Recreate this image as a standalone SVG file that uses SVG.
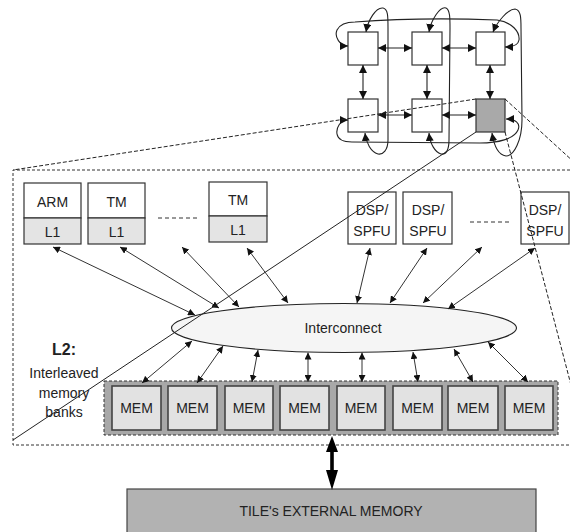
<svg xmlns="http://www.w3.org/2000/svg" width="570" height="532" viewBox="0 0 570 532">
  <style>
    text { font-family: "Liberation Sans", Arial, sans-serif; font-size: 14px; fill: #222; text-anchor: middle; }
    .bold { font-weight: bold; font-size: 16px; }
    .box { fill: #fff; stroke: #333; stroke-width: 1.2; }
    .cache { fill: #e4e4e4; stroke: #333; stroke-width: 1.2; }
    .tile { fill: #a9a9a9; stroke: #333; stroke-width: 1.2; }
    .mem { fill: #e2e2e2; stroke: #444; stroke-width: 1.6; }
    .bank { fill: #a8a8a8; stroke: #333; stroke-width: 1; stroke-dasharray: 3 2; }
    .ext { fill: #b2b2b2; stroke: #444; stroke-width: 1.2; }
    .bus { fill: #f5f5f5; stroke: #222; stroke-width: 1.1; }
    .frame { fill: none; stroke: #333; stroke-width: 1; stroke-dasharray: 3 2; }
    .dots { fill: none; stroke: #333; stroke-width: 1; stroke-dasharray: 4 3; }
    .link { fill: none; stroke: #333; stroke-width: 1; marker-start: url(#ah); marker-end: url(#ah); }
    .mesh { fill: none; stroke: #222; stroke-width: 1.1; marker-start: url(#gh); marker-end: url(#gh); }
    .proj { fill: none; stroke: #222; stroke-width: 1; }
    .projd { fill: none; stroke: #222; stroke-width: 1; stroke-dasharray: 4 2; }
  </style>
  <defs>
    <marker id="ah" viewBox="0 0 10 10" refX="10" refY="5" markerWidth="7" markerHeight="7" markerUnits="userSpaceOnUse" orient="auto-start-reverse">
      <path d="M0,0 L10,5 L0,10 z" fill="#111"/>
    </marker>
    <marker id="gh" viewBox="0 0 10 10" refX="10" refY="5" markerWidth="8" markerHeight="8" markerUnits="userSpaceOnUse" orient="auto-start-reverse">
      <path d="M0,0 L10,5 L0,10 z" fill="#111"/>
    </marker>
  </defs>

  <!-- tile boundary (dashed) -->
  <g id="tile-frame">
    <path class="frame" d="M570,170 L13,170 L13,445 L570,445"/>
  </g>

  <!-- 2x3 tile mesh -->
  <g id="mesh">
    <g id="t11"><rect class="box" x="348" y="32" width="30" height="33"/></g>
    <g id="t12"><rect class="box" x="412" y="32" width="30" height="33"/></g>
    <g id="t13"><rect class="box" x="476" y="32" width="29" height="33"/></g>
    <g id="t21"><rect class="box" x="348" y="99" width="30" height="33"/></g>
    <g id="t22"><rect class="box" x="412" y="99" width="30" height="33"/></g>
    <g id="t23"><rect class="tile" x="476" y="99" width="29" height="33"/></g>
  </g>
  <g id="mesh-links">
    <line class="mesh" x1="378" y1="48" x2="412" y2="48"/>
    <line class="mesh" x1="442" y1="48" x2="476" y2="48"/>
    <line class="mesh" x1="378" y1="115" x2="412" y2="115"/>
    <line class="mesh" x1="442" y1="115" x2="476" y2="115"/>
    <line class="mesh" x1="363" y1="65" x2="363" y2="99"/>
    <line class="mesh" x1="427" y1="65" x2="427" y2="99"/>
    <line class="mesh" x1="490" y1="65" x2="490" y2="99"/>
    <!-- wrap-around links -->
    <path class="mesh" d="M348,46 C340,46 334,37 337,30 C340,24 346,22 355,22 Q420,17 497,20 C512,22 520,32 519,40 C518,46 512,47 505,47"/>
    <path class="mesh" d="M348,120 C340,120 336,128 337,134 C338,140 343,142 352,142 L480,143 C498,143 514,139 518,130 C521,123 515,119 506,119"/>
    <path class="mesh" d="M366,32 C368,20 376,7 383,8 C388,9 388,16 388,28 L388,140 C388,150 383,155 378,154 C371,152 366,143 365,133"/>
    <path class="mesh" d="M429,32 C431,20 440,6 446,8 C450,10 450,18 450,28 L449,140 C449,150 446,155 441,154 C435,152 430,144 429,133"/>
    <path class="mesh" d="M493,32 C497,22 508,9 515,9 C521,10 521,18 521,28 L522,120 C522,140 514,156 506,156 C499,155 494,146 492,133"/>
  </g>

  <!-- processors -->
  <g id="arm">
    <rect class="box" x="24" y="183" width="57" height="35"/>
    <rect class="cache" x="24" y="218" width="57" height="26"/>
    <text x="52.5" y="207">ARM</text>
    <text x="52.5" y="237">L1</text>
  </g>
  <g id="tm1">
    <rect class="box" x="88" y="183" width="57" height="35"/>
    <rect class="cache" x="88" y="218" width="57" height="26"/>
    <text x="116.5" y="207">TM</text>
    <text x="116.5" y="237">L1</text>
  </g>
  <line class="dots" x1="158" y1="218" x2="197" y2="218"/>
  <g id="tm2">
    <rect class="box" x="209" y="182" width="58" height="34"/>
    <rect class="cache" x="209" y="216" width="58" height="26"/>
    <text x="238" y="205">TM</text>
    <text x="238" y="235">L1</text>
  </g>
  <g id="dsp1">
    <rect class="box" x="348" y="192" width="48" height="52"/>
    <text x="372" y="215">DSP/</text>
    <text x="372" y="236">SPFU</text>
  </g>
  <g id="dsp2">
    <rect class="box" x="403" y="192" width="49" height="52"/>
    <text x="428" y="215">DSP/</text>
    <text x="428" y="236">SPFU</text>
  </g>
  <line class="dots" x1="470" y1="222" x2="510" y2="222"/>
  <g id="dsp3">
    <rect class="box" x="521" y="192" width="48" height="52"/>
    <text x="545" y="215">DSP/</text>
    <text x="545" y="236">SPFU</text>
  </g>

  <!-- interconnect -->
  <g id="interconnect">
    <ellipse class="bus" cx="344" cy="328" rx="172.5" ry="24.5"/>
    <text x="343" y="333">Interconnect</text>
  </g>

  <!-- L2 label -->
  <g id="l2-label">
    <text class="bold" x="64" y="355">L2:</text>
    <text x="64" y="378">Interleaved</text>
    <text x="64" y="398">memory</text>
    <text x="64" y="417">banks</text>
  </g>

  <!-- L2 memory banks -->
  <g id="l2-banks">
    <rect class="bank" x="104" y="381" width="454" height="54"/>
    <g id="mem1"><rect class="mem" x="112" y="386" width="49" height="44"/><text x="136.5" y="413">MEM</text></g>
    <g id="mem2"><rect class="mem" x="168" y="386" width="49" height="44"/><text x="192.5" y="413">MEM</text></g>
    <g id="mem3"><rect class="mem" x="225" y="386" width="48" height="44"/><text x="249" y="413">MEM</text></g>
    <g id="mem4"><rect class="mem" x="280" y="386" width="49" height="44"/><text x="304.5" y="413">MEM</text></g>
    <g id="mem5"><rect class="mem" x="337" y="386" width="48" height="44"/><text x="361" y="413">MEM</text></g>
    <g id="mem6"><rect class="mem" x="393" y="386" width="49" height="44"/><text x="417.5" y="413">MEM</text></g>
    <g id="mem7"><rect class="mem" x="448" y="386" width="50" height="44"/><text x="473" y="413">MEM</text></g>
    <g id="mem8"><rect class="mem" x="505" y="386" width="48" height="44"/><text x="529" y="413">MEM</text></g>
  </g>

  <!-- external memory -->
  <g id="ext-mem">
    <rect class="ext" x="127" y="489" width="409" height="50"/>
    <text x="331" y="516">TILE's EXTERNAL MEMORY</text>
  </g>

  <!-- connectors -->
  <g id="connectors">
    <line class="link" x1="53" y1="247" x2="195" y2="315"/>
    <line class="link" x1="120" y1="247" x2="219" y2="308"/>
    <line class="link" x1="182" y1="247" x2="239" y2="307"/>
    <line class="link" x1="247" y1="248" x2="288" y2="303"/>
    <line class="link" x1="370" y1="248" x2="357" y2="303"/>
    <line class="link" x1="427" y1="248" x2="390" y2="303"/>
    <line class="link" x1="482" y1="247" x2="423" y2="303"/>
    <line class="link" x1="535" y1="248" x2="448" y2="309"/>

    <line class="link" x1="192" y1="341" x2="142" y2="383"/>
    <line class="link" x1="223" y1="346" x2="197" y2="383"/>
    <line class="link" x1="258" y1="350" x2="252" y2="382"/>
    <line class="link" x1="308" y1="352.5" x2="308" y2="382"/>
    <line class="link" x1="362" y1="352.5" x2="362" y2="382"/>
    <line class="link" x1="413" y1="352" x2="418" y2="382"/>
    <line class="link" x1="454" y1="349" x2="473" y2="382"/>
    <line class="link" x1="488" y1="342" x2="528" y2="382"/>

    <polygon points="332,436 326,452 330.2,452 330.2,470 326,470 332,490 338,470 333.8,470 333.8,452 338,452" fill="#000"/>
  </g>

  <!-- zoom-out guide lines from the highlighted tile -->
  <g id="guides">
    <line class="projd" x1="476" y1="99" x2="13" y2="170"/>
    <line class="projd" x1="505" y1="99" x2="575" y2="163"/>
    <line class="proj" x1="476" y1="132" x2="13" y2="440"/>
    <line class="projd" x1="505" y1="132" x2="571" y2="385"/>
  </g>
</svg>
